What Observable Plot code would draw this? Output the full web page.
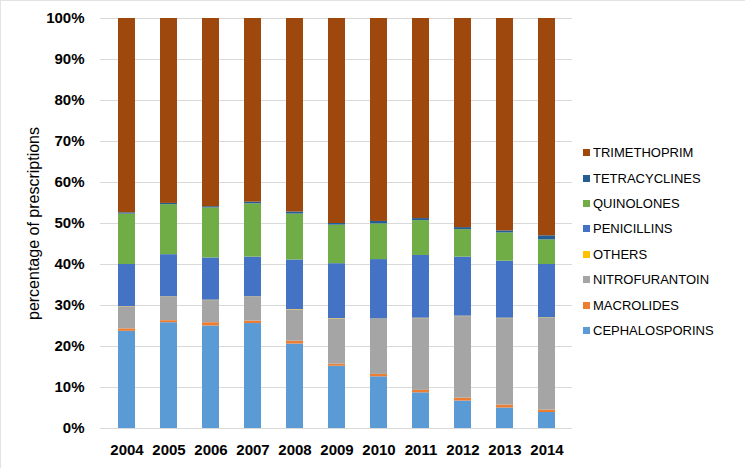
<!DOCTYPE html>
<html>
<head>
<meta charset="utf-8">
<script src="https://cdn.jsdelivr.net/npm/d3@7"></script>
<script src="https://cdn.jsdelivr.net/npm/@observablehq/plot@0.6"></script>
<style>
  body { margin: 0; background: #fff; font-family: "Liberation Sans", Arial, sans-serif; }
  #wrap { position: relative; width: 745px; height: 468px; }
  #border { position: absolute; left: 0; top: 0; width: 745px; height: 468px; box-sizing: border-box; border-top: 1px solid #e3e3e3; border-left: 1px solid #e3e3e3; pointer-events: none; }
  #legend { position: absolute; left: 583px; top: 140px; font-size: 13px; color: #000; }
  #legend .it { height: 25.4px; display: flex; align-items: center; }
  #legend .sw { width: 7px; height: 7px; margin-right: 3px; }
</style>
</head>
<body>
<div id="wrap"><div id="chart"></div><div id="legend"></div><div id="border"></div></div>
<script>
const years = ["2004","2005","2006","2007","2008","2009","2010","2011","2012","2013","2014"];
const classes = ["CEPHALOSPORINS","MACROLIDES","NITROFURANTOIN","OTHERS","PENICILLINS","QUINOLONES","TETRACYCLINES","TRIMETHOPRIM"];
const colors = ["#5B9BD5","#ED7D31","#A5A5A5","#FFC000","#4472C4","#70AD47","#255E91","#9E480E"];

const cephalosporins = [23.7, 25.8, 25.0, 25.6, 20.6, 15.2, 12.6, 8.7, 6.7, 5.0, 3.9];
const macrolides     = [0.6, 0.5, 0.8, 0.6, 0.7, 0.5, 0.6, 0.6, 0.7, 0.7, 0.6];
const nitrofurantoin = [5.3, 5.7, 5.4, 5.8, 7.6, 11.0, 13.4, 17.5, 19.9, 21.1, 22.4];
const others         = [0.1, 0.1, 0.1, 0.1, 0.1, 0.1, 0.1, 0.1, 0.1, 0.1, 0.1];
const penicillins    = [10.3, 10.3, 10.3, 9.7, 12.1, 13.4, 14.5, 15.3, 14.4, 13.9, 13.0];
const quinolones     = [12.3, 12.2, 12.2, 13.0, 11.2, 9.4, 8.7, 8.5, 6.7, 6.9, 6.0];
const tetracyclines  = [0.3, 0.3, 0.3, 0.4, 0.5, 0.4, 0.6, 0.5, 0.5, 0.5, 1.0];
const trimethoprim   = [47.4, 45.1, 45.9, 44.8, 47.2, 50.0, 49.5, 48.8, 51.0, 51.8, 53.0];

const series = [cephalosporins, macrolides, nitrofurantoin, others, penicillins, quinolones, tetracyclines, trimethoprim];
const data = [];
years.forEach((yr, i) => classes.forEach((c, j) => data.push({year: yr, cls: c, value: series[j][i]})));

const yTicks = d3.range(0, 1.0001, 0.1);
const chart = Plot.plot({
  width: 745,
  height: 468,
  marginLeft: 100,
  marginRight: 173,
  marginTop: 18,
  marginBottom: 40,
  style: {fontFamily: "'Liberation Sans', Arial, sans-serif", fontSize: "15px", color: "#000", background: "#fff"},
  x: {domain: years, paddingInner: 0.6, paddingOuter: 0.29, label: null},
  y: {domain: [0, 1], label: null},
  color: {domain: classes, range: colors},
  marks: [
    Plot.gridY(yTicks, {stroke: "#d9d9d9", strokeOpacity: 1, strokeWidth: 1}),
    Plot.barY(data, {x: "year", y: "value", fill: "cls", order: classes, offset: "normalize"}),
    Plot.axisY({ticks: yTicks, tickFormat: d => Math.round(d * 100) + "%", tickSize: 0, tickPadding: 16, label: null, fontWeight: "bold", fontSize: 15}),
    Plot.axisX({tickSize: 0, tickPadding: 16, label: null, fontWeight: "bold", fontSize: 15}),
    Plot.text(["percentage of prescriptions"], {frameAnchor: "left", textAnchor: "middle", dx: -67, rotate: -90, fontSize: 16, fill: "#000"})
  ]
});
document.getElementById("chart").appendChild(chart);

const leg = document.getElementById("legend");
for (let j = classes.length - 1; j >= 0; j--) {
  const it = document.createElement("div");
  it.className = "it";
  it.innerHTML = `<span class="sw" style="background:${colors[j]}"></span><span>${classes[j]}</span>`;
  leg.appendChild(it);
}
</script>
</body>
</html>
